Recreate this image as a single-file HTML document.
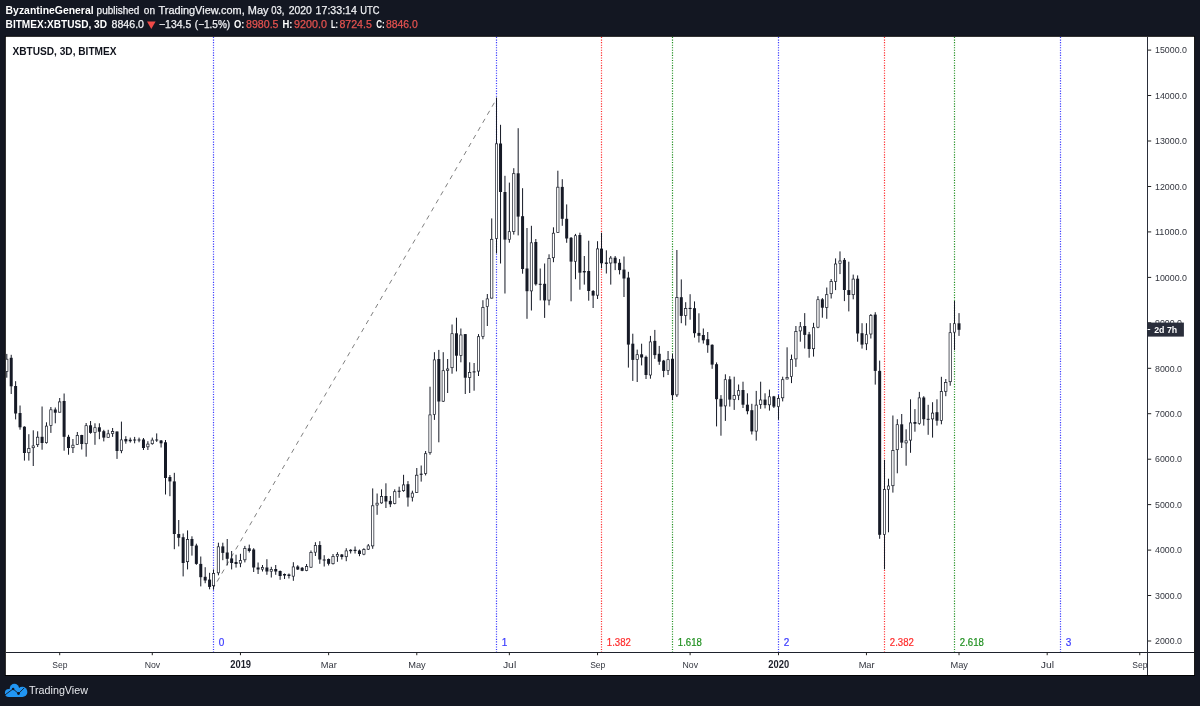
<!DOCTYPE html>
<html><head><meta charset="utf-8"><title>XBTUSD 3D</title>
<style>
html,body{margin:0;padding:0;background:#131722;}
body{width:1200px;height:706px;overflow:hidden;font-family:"Liberation Sans",sans-serif;}
svg{display:block;will-change:transform;}
text{font-family:"Liberation Sans",sans-serif;}
</style></head><body>
<svg width="1200" height="706" viewBox="0 0 1200 706">
<rect x="0" y="0" width="1200" height="706" fill="#131722"/>
<rect x="4.9" y="35.9" width="1190.1" height="640" fill="#000000"/>
<rect x="5.8" y="36.8" width="1188.3" height="638.2" fill="#ffffff"/>
<line x1="213.50" y1="37" x2="213.50" y2="652" stroke="#3a3aff" stroke-width="1.2" stroke-dasharray="1.1 1.45"/>
<line x1="496.50" y1="37" x2="496.50" y2="652" stroke="#3a3aff" stroke-width="1.2" stroke-dasharray="1.1 1.45"/>
<line x1="601.50" y1="37" x2="601.50" y2="652" stroke="#ff2a2a" stroke-width="1.2" stroke-dasharray="1.1 1.45"/>
<line x1="672.50" y1="37" x2="672.50" y2="652" stroke="#1f8f1f" stroke-width="1.2" stroke-dasharray="1.1 1.45"/>
<line x1="778.50" y1="37" x2="778.50" y2="652" stroke="#3a3aff" stroke-width="1.2" stroke-dasharray="1.1 1.45"/>
<line x1="884.50" y1="37" x2="884.50" y2="652" stroke="#ff2a2a" stroke-width="1.2" stroke-dasharray="1.1 1.45"/>
<line x1="954.50" y1="37" x2="954.50" y2="652" stroke="#1f8f1f" stroke-width="1.2" stroke-dasharray="1.1 1.45"/>
<line x1="1060.50" y1="37" x2="1060.50" y2="652" stroke="#3a3aff" stroke-width="1.2" stroke-dasharray="1.1 1.45"/>
<line x1="213.7" y1="587.5" x2="495.9" y2="100" stroke="#808080" stroke-width="1" stroke-dasharray="4.6 4.7" stroke-dashoffset="2.5"/>
<clipPath id="cc"><rect x="6" y="37" width="1141" height="615"/></clipPath>
<g clip-path="url(#cc)">
<rect x="6.30" y="353.9" width="1" height="23.8" fill="#161a26"/><rect x="5.65" y="359.2" width="2.3" height="12.2" fill="#fff" stroke="#161a26" stroke-width="0.7"/>
<rect x="10.71" y="354.8" width="1" height="39.2" fill="#161a26"/><rect x="9.71" y="357.8" width="3" height="28.5" fill="#161a26"/>
<rect x="15.12" y="381.2" width="1" height="38.2" fill="#161a26"/><rect x="14.12" y="386.0" width="3" height="27.5" fill="#161a26"/>
<rect x="19.53" y="405.5" width="1" height="24.2" fill="#161a26"/><rect x="18.53" y="413.0" width="3" height="14.3" fill="#161a26"/>
<rect x="23.93" y="426.3" width="1" height="34.3" fill="#161a26"/><rect x="22.93" y="426.7" width="3" height="26.3" fill="#161a26"/>
<rect x="28.34" y="434.2" width="1" height="26.4" fill="#161a26"/><rect x="27.69" y="448.4" width="2.3" height="4.3" fill="#fff" stroke="#161a26" stroke-width="0.7"/>
<rect x="32.75" y="430.3" width="1" height="35.7" fill="#161a26"/><rect x="32.10" y="445.9" width="2.3" height="1.8" fill="#fff" stroke="#161a26" stroke-width="0.7"/>
<rect x="37.16" y="431.3" width="1" height="15.7" fill="#161a26"/><rect x="36.51" y="437.2" width="2.3" height="7.5" fill="#fff" stroke="#161a26" stroke-width="0.7"/>
<rect x="41.57" y="406.5" width="1" height="43.2" fill="#161a26"/><rect x="40.57" y="436.8" width="3" height="6.2" fill="#161a26"/>
<rect x="45.98" y="422.3" width="1" height="21.3" fill="#161a26"/><rect x="45.33" y="426.1" width="2.3" height="16.6" fill="#fff" stroke="#161a26" stroke-width="0.7"/>
<rect x="50.38" y="407.0" width="1" height="25.9" fill="#161a26"/><rect x="49.73" y="409.8" width="2.3" height="15.6" fill="#fff" stroke="#161a26" stroke-width="0.7"/>
<rect x="54.79" y="407.5" width="1" height="15.8" fill="#161a26"/><rect x="53.79" y="409.5" width="3" height="3.2" fill="#161a26"/>
<rect x="59.20" y="398.0" width="1" height="14.5" fill="#161a26"/><rect x="58.55" y="401.9" width="2.3" height="10.3" fill="#fff" stroke="#161a26" stroke-width="0.7"/>
<rect x="63.61" y="393.5" width="1" height="57.2" fill="#161a26"/><rect x="62.61" y="401.0" width="3" height="35.8" fill="#161a26"/>
<rect x="68.02" y="434.8" width="1" height="19.9" fill="#161a26"/><rect x="67.02" y="436.8" width="3" height="11.2" fill="#161a26"/>
<rect x="72.43" y="439.0" width="1" height="14.0" fill="#161a26"/><rect x="71.78" y="445.2" width="2.3" height="2.5" fill="#fff" stroke="#161a26" stroke-width="0.7"/>
<rect x="76.83" y="432.0" width="1" height="13.0" fill="#161a26"/><rect x="76.18" y="435.4" width="2.3" height="9.1" fill="#fff" stroke="#161a26" stroke-width="0.7"/>
<rect x="81.24" y="434.8" width="1" height="14.7" fill="#161a26"/><rect x="80.24" y="435.0" width="3" height="9.0" fill="#161a26"/>
<rect x="85.65" y="423.0" width="1" height="33.7" fill="#161a26"/><rect x="85.00" y="425.7" width="2.3" height="18.0" fill="#fff" stroke="#161a26" stroke-width="0.7"/>
<rect x="90.06" y="421.0" width="1" height="12.7" fill="#161a26"/><rect x="89.06" y="425.3" width="3" height="7.6" fill="#161a26"/>
<rect x="94.47" y="423.3" width="1" height="21.5" fill="#161a26"/><rect x="93.82" y="427.7" width="2.3" height="4.9" fill="#fff" stroke="#161a26" stroke-width="0.7"/>
<rect x="98.88" y="423.3" width="1" height="15.9" fill="#161a26"/><rect x="97.88" y="427.3" width="3" height="4.4" fill="#161a26"/>
<rect x="103.28" y="429.8" width="1" height="11.6" fill="#161a26"/><rect x="102.28" y="431.2" width="3" height="6.4" fill="#161a26"/>
<rect x="107.69" y="429.8" width="1" height="7.8" fill="#161a26"/><rect x="107.04" y="433.8" width="2.3" height="3.5" fill="#fff" stroke="#161a26" stroke-width="0.7"/>
<rect x="112.10" y="428.0" width="1" height="8.9" fill="#161a26"/><rect x="111.45" y="431.6" width="2.3" height="1.9" fill="#fff" stroke="#161a26" stroke-width="0.7"/>
<rect x="116.51" y="431.5" width="1" height="27.4" fill="#161a26"/><rect x="115.51" y="431.5" width="3" height="19.5" fill="#161a26"/>
<rect x="120.92" y="421.6" width="1" height="31.6" fill="#161a26"/><rect x="120.27" y="439.9" width="2.3" height="10.8" fill="#fff" stroke="#161a26" stroke-width="0.7"/>
<rect x="125.33" y="436.2" width="1" height="7.5" fill="#161a26"/><rect x="124.33" y="439.0" width="3" height="2.4" fill="#161a26"/>
<rect x="129.74" y="437.6" width="1" height="5.0" fill="#161a26"/><rect x="128.74" y="439.7" width="3" height="1.5" fill="#161a26"/>
<rect x="134.14" y="436.9" width="1" height="6.4" fill="#161a26"/><rect x="133.14" y="439.5" width="3" height="1.0" fill="#161a26"/>
<rect x="138.55" y="437.6" width="1" height="4.7" fill="#161a26"/><rect x="137.55" y="439.5" width="3" height="1.0" fill="#161a26"/>
<rect x="142.96" y="438.0" width="1" height="12.0" fill="#161a26"/><rect x="141.96" y="439.5" width="3" height="8.5" fill="#161a26"/>
<rect x="147.37" y="441.2" width="1" height="8.8" fill="#161a26"/><rect x="146.72" y="444.1" width="2.3" height="2.7" fill="#fff" stroke="#161a26" stroke-width="0.7"/>
<rect x="151.78" y="437.6" width="1" height="7.1" fill="#161a26"/><rect x="151.13" y="440.1" width="2.3" height="3.6" fill="#fff" stroke="#161a26" stroke-width="0.7"/>
<rect x="156.19" y="433.4" width="1" height="8.5" fill="#161a26"/><rect x="155.19" y="439.5" width="3" height="1.0" fill="#161a26"/>
<rect x="160.59" y="440.0" width="1" height="7.5" fill="#161a26"/><rect x="159.59" y="440.5" width="3" height="2.8" fill="#161a26"/>
<rect x="165.00" y="440.0" width="1" height="54.5" fill="#161a26"/><rect x="164.00" y="442.3" width="3" height="35.7" fill="#161a26"/>
<rect x="169.41" y="475.0" width="1" height="21.2" fill="#161a26"/><rect x="168.41" y="477.0" width="3" height="4.4" fill="#161a26"/>
<rect x="173.82" y="472.8" width="1" height="76.4" fill="#161a26"/><rect x="172.82" y="481.4" width="3" height="52.6" fill="#161a26"/>
<rect x="178.23" y="520.0" width="1" height="26.4" fill="#161a26"/><rect x="177.23" y="534.0" width="3" height="3.8" fill="#161a26"/>
<rect x="182.64" y="533.5" width="1" height="42.9" fill="#161a26"/><rect x="181.64" y="537.2" width="3" height="25.8" fill="#161a26"/>
<rect x="187.04" y="530.4" width="1" height="39.0" fill="#161a26"/><rect x="186.39" y="539.4" width="2.3" height="22.3" fill="#fff" stroke="#161a26" stroke-width="0.7"/>
<rect x="191.45" y="536.3" width="1" height="19.3" fill="#161a26"/><rect x="190.45" y="539.0" width="3" height="6.9" fill="#161a26"/>
<rect x="195.86" y="543.7" width="1" height="21.1" fill="#161a26"/><rect x="194.86" y="545.5" width="3" height="18.4" fill="#161a26"/>
<rect x="200.27" y="556.5" width="1" height="29.9" fill="#161a26"/><rect x="199.27" y="563.9" width="3" height="13.3" fill="#161a26"/>
<rect x="204.68" y="567.2" width="1" height="16.0" fill="#161a26"/><rect x="203.68" y="576.8" width="3" height="3.7" fill="#161a26"/>
<rect x="209.09" y="572.8" width="1" height="16.5" fill="#161a26"/><rect x="208.09" y="579.6" width="3" height="7.3" fill="#161a26"/>
<rect x="213.00" y="569.4" width="1" height="20.3" fill="#161a26"/><rect x="212.35" y="573.5" width="2.3" height="12.2" fill="#fff" stroke="#161a26" stroke-width="0.7"/>
<rect x="217.90" y="542.7" width="1" height="32.6" fill="#161a26"/><rect x="217.25" y="546.8" width="2.3" height="26.0" fill="#fff" stroke="#161a26" stroke-width="0.7"/>
<rect x="222.31" y="542.7" width="1" height="17.5" fill="#161a26"/><rect x="221.31" y="546.4" width="3" height="6.5" fill="#161a26"/>
<rect x="226.72" y="539.0" width="1" height="26.4" fill="#161a26"/><rect x="225.72" y="552.5" width="3" height="6.3" fill="#161a26"/>
<rect x="231.13" y="551.0" width="1" height="18.4" fill="#161a26"/><rect x="230.13" y="558.4" width="3" height="4.6" fill="#161a26"/>
<rect x="235.54" y="554.7" width="1" height="12.9" fill="#161a26"/><rect x="234.54" y="562.0" width="3" height="2.0" fill="#161a26"/>
<rect x="239.95" y="553.8" width="1" height="13.4" fill="#161a26"/><rect x="239.30" y="560.6" width="2.3" height="2.6" fill="#fff" stroke="#161a26" stroke-width="0.7"/>
<rect x="244.35" y="545.9" width="1" height="16.5" fill="#161a26"/><rect x="243.70" y="548.6" width="2.3" height="11.2" fill="#fff" stroke="#161a26" stroke-width="0.7"/>
<rect x="248.76" y="544.6" width="1" height="7.9" fill="#161a26"/><rect x="247.76" y="548.3" width="3" height="2.7" fill="#161a26"/>
<rect x="253.17" y="548.2" width="1" height="23.8" fill="#161a26"/><rect x="252.17" y="549.5" width="3" height="18.0" fill="#161a26"/>
<rect x="257.58" y="562.5" width="1" height="11.5" fill="#161a26"/><rect x="256.58" y="567.5" width="3" height="2.0" fill="#161a26"/>
<rect x="261.99" y="565.0" width="1" height="6.5" fill="#161a26"/><rect x="261.34" y="567.4" width="2.3" height="1.8" fill="#fff" stroke="#161a26" stroke-width="0.7"/>
<rect x="266.40" y="559.2" width="1" height="15.6" fill="#161a26"/><rect x="265.40" y="567.5" width="3" height="4.0" fill="#161a26"/>
<rect x="270.80" y="566.8" width="1" height="10.7" fill="#161a26"/><rect x="270.15" y="569.4" width="2.3" height="1.8" fill="#fff" stroke="#161a26" stroke-width="0.7"/>
<rect x="275.21" y="565.0" width="1" height="9.8" fill="#161a26"/><rect x="274.21" y="569.0" width="3" height="2.5" fill="#161a26"/>
<rect x="279.62" y="570.5" width="1" height="9.3" fill="#161a26"/><rect x="278.62" y="571.0" width="3" height="5.0" fill="#161a26"/>
<rect x="284.03" y="573.5" width="1" height="5.5" fill="#161a26"/><rect x="283.03" y="574.0" width="3" height="1.5" fill="#161a26"/>
<rect x="288.44" y="573.5" width="1" height="5.0" fill="#161a26"/><rect x="287.44" y="574.5" width="3" height="1.5" fill="#161a26"/>
<rect x="292.85" y="562.2" width="1" height="18.6" fill="#161a26"/><rect x="292.20" y="566.9" width="2.3" height="9.3" fill="#fff" stroke="#161a26" stroke-width="0.7"/>
<rect x="297.25" y="565.2" width="1" height="4.8" fill="#161a26"/><rect x="296.25" y="566.5" width="3" height="3.0" fill="#161a26"/>
<rect x="301.66" y="567.0" width="1" height="4.2" fill="#161a26"/><rect x="300.66" y="567.8" width="3" height="3.0" fill="#161a26"/>
<rect x="306.07" y="564.0" width="1" height="7.2" fill="#161a26"/><rect x="305.42" y="566.6" width="2.3" height="3.9" fill="#fff" stroke="#161a26" stroke-width="0.7"/>
<rect x="310.48" y="550.5" width="1" height="17.3" fill="#161a26"/><rect x="309.83" y="552.4" width="2.3" height="14.8" fill="#fff" stroke="#161a26" stroke-width="0.7"/>
<rect x="314.89" y="542.2" width="1" height="13.8" fill="#161a26"/><rect x="314.24" y="545.4" width="2.3" height="6.8" fill="#fff" stroke="#161a26" stroke-width="0.7"/>
<rect x="319.30" y="541.2" width="1" height="22.6" fill="#161a26"/><rect x="318.30" y="545.0" width="3" height="14.5" fill="#161a26"/>
<rect x="323.70" y="555.2" width="1" height="11.3" fill="#161a26"/><rect x="322.70" y="559.5" width="3" height="1.0" fill="#161a26"/>
<rect x="328.11" y="558.5" width="1" height="7.0" fill="#161a26"/><rect x="327.11" y="559.0" width="3" height="4.8" fill="#161a26"/>
<rect x="332.52" y="554.0" width="1" height="10.5" fill="#161a26"/><rect x="331.87" y="556.4" width="2.3" height="7.3" fill="#fff" stroke="#161a26" stroke-width="0.7"/>
<rect x="336.93" y="552.2" width="1" height="9.6" fill="#161a26"/><rect x="336.28" y="554.4" width="2.3" height="1.8" fill="#fff" stroke="#161a26" stroke-width="0.7"/>
<rect x="341.34" y="554.0" width="1" height="5.5" fill="#161a26"/><rect x="340.34" y="554.5" width="3" height="2.5" fill="#161a26"/>
<rect x="345.75" y="548.2" width="1" height="13.0" fill="#161a26"/><rect x="345.10" y="550.9" width="2.3" height="5.8" fill="#fff" stroke="#161a26" stroke-width="0.7"/>
<rect x="350.16" y="549.2" width="1" height="4.3" fill="#161a26"/><rect x="349.16" y="549.8" width="3" height="1.4" fill="#161a26"/>
<rect x="354.56" y="546.5" width="1" height="7.0" fill="#161a26"/><rect x="353.56" y="549.8" width="3" height="1.2" fill="#161a26"/>
<rect x="358.97" y="549.5" width="1" height="6.7" fill="#161a26"/><rect x="357.97" y="550.5" width="3" height="3.5" fill="#161a26"/>
<rect x="363.38" y="548.2" width="1" height="7.0" fill="#161a26"/><rect x="362.73" y="549.6" width="2.3" height="4.6" fill="#fff" stroke="#161a26" stroke-width="0.7"/>
<rect x="367.79" y="544.0" width="1" height="6.0" fill="#161a26"/><rect x="367.14" y="545.9" width="2.3" height="3.3" fill="#fff" stroke="#161a26" stroke-width="0.7"/>
<rect x="372.20" y="488.4" width="1" height="60.4" fill="#161a26"/><rect x="371.55" y="505.8" width="2.3" height="40.1" fill="#fff" stroke="#161a26" stroke-width="0.7"/>
<rect x="376.61" y="493.5" width="1" height="21.3" fill="#161a26"/><rect x="375.96" y="503.2" width="2.3" height="1.8" fill="#fff" stroke="#161a26" stroke-width="0.7"/>
<rect x="381.01" y="489.3" width="1" height="14.4" fill="#161a26"/><rect x="380.36" y="496.4" width="2.3" height="6.5" fill="#fff" stroke="#161a26" stroke-width="0.7"/>
<rect x="385.42" y="483.3" width="1" height="24.7" fill="#161a26"/><rect x="384.42" y="496.0" width="3" height="5.5" fill="#161a26"/>
<rect x="389.83" y="496.0" width="1" height="11.1" fill="#161a26"/><rect x="388.83" y="500.9" width="3" height="3.4" fill="#161a26"/>
<rect x="394.24" y="489.3" width="1" height="15.0" fill="#161a26"/><rect x="393.59" y="491.7" width="2.3" height="11.7" fill="#fff" stroke="#161a26" stroke-width="0.7"/>
<rect x="398.65" y="486.7" width="1" height="11.1" fill="#161a26"/><rect x="397.65" y="490.7" width="3" height="1.1" fill="#161a26"/>
<rect x="403.06" y="474.8" width="1" height="17.0" fill="#161a26"/><rect x="402.41" y="484.9" width="2.3" height="5.8" fill="#fff" stroke="#161a26" stroke-width="0.7"/>
<rect x="407.46" y="481.1" width="1" height="25.5" fill="#161a26"/><rect x="406.46" y="484.2" width="3" height="13.3" fill="#161a26"/>
<rect x="411.87" y="490.7" width="1" height="10.8" fill="#161a26"/><rect x="411.22" y="493.1" width="2.3" height="4.1" fill="#fff" stroke="#161a26" stroke-width="0.7"/>
<rect x="416.28" y="468.0" width="1" height="25.0" fill="#161a26"/><rect x="415.63" y="475.2" width="2.3" height="17.2" fill="#fff" stroke="#161a26" stroke-width="0.7"/>
<rect x="420.69" y="465.5" width="1" height="16.1" fill="#161a26"/><rect x="419.69" y="473.7" width="3" height="1.1" fill="#161a26"/>
<rect x="425.10" y="451.0" width="1" height="24.4" fill="#161a26"/><rect x="424.45" y="453.7" width="2.3" height="19.7" fill="#fff" stroke="#161a26" stroke-width="0.7"/>
<rect x="429.51" y="386.7" width="1" height="68.0" fill="#161a26"/><rect x="428.86" y="414.9" width="2.3" height="37.8" fill="#fff" stroke="#161a26" stroke-width="0.7"/>
<rect x="433.91" y="352.2" width="1" height="67.7" fill="#161a26"/><rect x="433.26" y="359.9" width="2.3" height="54.6" fill="#fff" stroke="#161a26" stroke-width="0.7"/>
<rect x="438.32" y="349.9" width="1" height="92.4" fill="#161a26"/><rect x="437.32" y="359.0" width="3" height="42.5" fill="#161a26"/>
<rect x="442.73" y="352.2" width="1" height="49.8" fill="#161a26"/><rect x="442.08" y="370.7" width="2.3" height="30.5" fill="#fff" stroke="#161a26" stroke-width="0.7"/>
<rect x="447.14" y="359.0" width="1" height="34.0" fill="#161a26"/><rect x="446.49" y="369.0" width="2.3" height="1.3" fill="#fff" stroke="#161a26" stroke-width="0.7"/>
<rect x="451.55" y="324.5" width="1" height="49.2" fill="#161a26"/><rect x="450.90" y="333.7" width="2.3" height="34.0" fill="#fff" stroke="#161a26" stroke-width="0.7"/>
<rect x="455.96" y="317.7" width="1" height="53.7" fill="#161a26"/><rect x="454.96" y="333.3" width="3" height="22.4" fill="#161a26"/>
<rect x="460.37" y="328.5" width="1" height="33.8" fill="#161a26"/><rect x="459.72" y="335.0" width="2.3" height="20.4" fill="#fff" stroke="#161a26" stroke-width="0.7"/>
<rect x="464.77" y="334.1" width="1" height="59.9" fill="#161a26"/><rect x="463.77" y="334.1" width="3" height="43.6" fill="#161a26"/>
<rect x="469.18" y="362.3" width="1" height="30.7" fill="#161a26"/><rect x="468.53" y="372.4" width="2.3" height="5.0" fill="#fff" stroke="#161a26" stroke-width="0.7"/>
<rect x="473.59" y="363.0" width="1" height="27.7" fill="#161a26"/><rect x="472.59" y="371.4" width="3" height="1.0" fill="#161a26"/>
<rect x="478.00" y="334.1" width="1" height="41.9" fill="#161a26"/><rect x="477.35" y="336.7" width="2.3" height="34.4" fill="#fff" stroke="#161a26" stroke-width="0.7"/>
<rect x="482.41" y="300.2" width="1" height="39.0" fill="#161a26"/><rect x="481.76" y="307.4" width="2.3" height="29.0" fill="#fff" stroke="#161a26" stroke-width="0.7"/>
<rect x="486.82" y="294.0" width="1" height="32.0" fill="#161a26"/><rect x="486.17" y="298.9" width="2.3" height="7.7" fill="#fff" stroke="#161a26" stroke-width="0.7"/>
<rect x="491.22" y="218.4" width="1" height="80.1" fill="#161a26"/><rect x="490.57" y="239.3" width="2.3" height="58.8" fill="#fff" stroke="#161a26" stroke-width="0.7"/>
<rect x="496.00" y="97.6" width="1" height="155.8" fill="#161a26"/><rect x="495.35" y="143.8" width="2.3" height="94.8" fill="#fff" stroke="#161a26" stroke-width="0.7"/>
<rect x="500.04" y="124.8" width="1" height="138.7" fill="#161a26"/><rect x="499.04" y="143.5" width="3" height="48.5" fill="#161a26"/>
<rect x="504.45" y="175.8" width="1" height="117.7" fill="#161a26"/><rect x="503.45" y="192.0" width="3" height="47.6" fill="#161a26"/>
<rect x="508.86" y="182.6" width="1" height="60.1" fill="#161a26"/><rect x="508.21" y="231.7" width="2.3" height="7.6" fill="#fff" stroke="#161a26" stroke-width="0.7"/>
<rect x="513.27" y="168.2" width="1" height="66.4" fill="#161a26"/><rect x="512.62" y="173.7" width="2.3" height="57.7" fill="#fff" stroke="#161a26" stroke-width="0.7"/>
<rect x="517.67" y="128.2" width="1" height="107.2" fill="#161a26"/><rect x="516.67" y="173.3" width="3" height="43.3" fill="#161a26"/>
<rect x="522.08" y="188.2" width="1" height="85.5" fill="#161a26"/><rect x="521.08" y="216.2" width="3" height="52.8" fill="#161a26"/>
<rect x="526.49" y="228.0" width="1" height="90.8" fill="#161a26"/><rect x="525.49" y="268.5" width="3" height="22.7" fill="#161a26"/>
<rect x="530.90" y="225.8" width="1" height="84.7" fill="#161a26"/><rect x="530.25" y="242.8" width="2.3" height="48.1" fill="#fff" stroke="#161a26" stroke-width="0.7"/>
<rect x="535.31" y="239.0" width="1" height="46.6" fill="#161a26"/><rect x="534.31" y="242.0" width="3" height="42.3" fill="#161a26"/>
<rect x="539.72" y="268.5" width="1" height="31.9" fill="#161a26"/><rect x="538.72" y="283.8" width="3" height="1.0" fill="#161a26"/>
<rect x="544.12" y="263.5" width="1" height="54.4" fill="#161a26"/><rect x="543.12" y="283.8" width="3" height="16.6" fill="#161a26"/>
<rect x="548.53" y="254.3" width="1" height="51.0" fill="#161a26"/><rect x="547.88" y="258.4" width="2.3" height="41.7" fill="#fff" stroke="#161a26" stroke-width="0.7"/>
<rect x="552.94" y="227.3" width="1" height="34.9" fill="#161a26"/><rect x="552.29" y="233.2" width="2.3" height="24.5" fill="#fff" stroke="#161a26" stroke-width="0.7"/>
<rect x="557.35" y="170.7" width="1" height="62.1" fill="#161a26"/><rect x="556.70" y="187.2" width="2.3" height="45.2" fill="#fff" stroke="#161a26" stroke-width="0.7"/>
<rect x="561.76" y="179.2" width="1" height="46.6" fill="#161a26"/><rect x="560.76" y="186.9" width="3" height="31.9" fill="#161a26"/>
<rect x="566.17" y="204.4" width="1" height="38.4" fill="#161a26"/><rect x="565.17" y="218.8" width="3" height="19.7" fill="#161a26"/>
<rect x="570.58" y="237.0" width="1" height="64.3" fill="#161a26"/><rect x="569.58" y="237.8" width="3" height="23.8" fill="#161a26"/>
<rect x="574.98" y="233.9" width="1" height="45.3" fill="#161a26"/><rect x="574.33" y="235.7" width="2.3" height="25.6" fill="#fff" stroke="#161a26" stroke-width="0.7"/>
<rect x="579.39" y="232.7" width="1" height="57.0" fill="#161a26"/><rect x="578.39" y="235.0" width="3" height="37.7" fill="#161a26"/>
<rect x="583.80" y="256.0" width="1" height="28.6" fill="#161a26"/><rect x="582.80" y="271.0" width="3" height="1.4" fill="#161a26"/>
<rect x="588.21" y="240.7" width="1" height="60.0" fill="#161a26"/><rect x="587.21" y="271.0" width="3" height="20.0" fill="#161a26"/>
<rect x="592.62" y="290.0" width="1" height="18.0" fill="#161a26"/><rect x="591.62" y="291.0" width="3" height="4.6" fill="#161a26"/>
<rect x="597.03" y="241.2" width="1" height="57.8" fill="#161a26"/><rect x="596.38" y="248.9" width="2.3" height="46.3" fill="#fff" stroke="#161a26" stroke-width="0.7"/>
<rect x="601.00" y="232.7" width="1" height="35.7" fill="#161a26"/><rect x="600.00" y="248.6" width="3" height="14.7" fill="#161a26"/>
<rect x="605.84" y="250.3" width="1" height="23.2" fill="#161a26"/><rect x="604.84" y="262.5" width="3" height="1.4" fill="#161a26"/>
<rect x="610.25" y="256.0" width="1" height="28.6" fill="#161a26"/><rect x="609.60" y="258.1" width="2.3" height="4.9" fill="#fff" stroke="#161a26" stroke-width="0.7"/>
<rect x="614.66" y="256.0" width="1" height="14.1" fill="#161a26"/><rect x="613.66" y="257.7" width="3" height="5.6" fill="#161a26"/>
<rect x="619.07" y="259.1" width="1" height="15.3" fill="#161a26"/><rect x="618.07" y="262.8" width="3" height="7.3" fill="#161a26"/>
<rect x="623.48" y="256.5" width="1" height="40.5" fill="#161a26"/><rect x="622.48" y="269.6" width="3" height="8.9" fill="#161a26"/>
<rect x="627.88" y="271.8" width="1" height="95.8" fill="#161a26"/><rect x="626.88" y="277.6" width="3" height="67.0" fill="#161a26"/>
<rect x="632.29" y="333.7" width="1" height="47.2" fill="#161a26"/><rect x="631.29" y="343.7" width="3" height="16.2" fill="#161a26"/>
<rect x="636.70" y="349.6" width="1" height="32.4" fill="#161a26"/><rect x="636.05" y="354.7" width="2.3" height="4.9" fill="#fff" stroke="#161a26" stroke-width="0.7"/>
<rect x="641.11" y="343.7" width="1" height="21.7" fill="#161a26"/><rect x="640.11" y="354.3" width="3" height="3.2" fill="#161a26"/>
<rect x="645.52" y="355.6" width="1" height="23.4" fill="#161a26"/><rect x="644.52" y="356.9" width="3" height="18.1" fill="#161a26"/>
<rect x="649.93" y="335.9" width="1" height="42.8" fill="#161a26"/><rect x="649.28" y="341.9" width="2.3" height="33.1" fill="#fff" stroke="#161a26" stroke-width="0.7"/>
<rect x="654.33" y="329.9" width="1" height="28.9" fill="#161a26"/><rect x="653.33" y="340.9" width="3" height="14.2" fill="#161a26"/>
<rect x="658.74" y="345.9" width="1" height="18.9" fill="#161a26"/><rect x="657.74" y="353.8" width="3" height="7.9" fill="#161a26"/>
<rect x="663.15" y="359.9" width="1" height="17.3" fill="#161a26"/><rect x="662.15" y="360.6" width="3" height="10.3" fill="#161a26"/>
<rect x="667.56" y="351.0" width="1" height="24.0" fill="#161a26"/><rect x="666.91" y="359.7" width="2.3" height="10.9" fill="#fff" stroke="#161a26" stroke-width="0.7"/>
<rect x="672.00" y="353.8" width="1" height="46.2" fill="#161a26"/><rect x="671.00" y="358.8" width="3" height="36.4" fill="#161a26"/>
<rect x="676.38" y="250.0" width="1" height="147.0" fill="#161a26"/><rect x="675.73" y="297.6" width="2.3" height="97.3" fill="#fff" stroke="#161a26" stroke-width="0.7"/>
<rect x="680.79" y="279.4" width="1" height="43.8" fill="#161a26"/><rect x="679.79" y="297.2" width="3" height="18.7" fill="#161a26"/>
<rect x="685.19" y="302.2" width="1" height="23.3" fill="#161a26"/><rect x="684.54" y="308.6" width="2.3" height="6.9" fill="#fff" stroke="#161a26" stroke-width="0.7"/>
<rect x="689.60" y="294.2" width="1" height="25.5" fill="#161a26"/><rect x="688.60" y="307.9" width="3" height="1.1" fill="#161a26"/>
<rect x="694.01" y="301.4" width="1" height="36.2" fill="#161a26"/><rect x="693.01" y="308.2" width="3" height="25.0" fill="#161a26"/>
<rect x="698.42" y="313.3" width="1" height="29.2" fill="#161a26"/><rect x="697.42" y="332.9" width="3" height="2.9" fill="#161a26"/>
<rect x="702.83" y="328.5" width="1" height="15.1" fill="#161a26"/><rect x="701.83" y="335.0" width="3" height="5.3" fill="#161a26"/>
<rect x="707.24" y="332.0" width="1" height="20.8" fill="#161a26"/><rect x="706.24" y="339.2" width="3" height="6.0" fill="#161a26"/>
<rect x="711.64" y="344.3" width="1" height="24.5" fill="#161a26"/><rect x="710.64" y="344.8" width="3" height="19.8" fill="#161a26"/>
<rect x="716.05" y="362.4" width="1" height="64.0" fill="#161a26"/><rect x="715.05" y="364.2" width="3" height="35.0" fill="#161a26"/>
<rect x="720.46" y="395.1" width="1" height="40.6" fill="#161a26"/><rect x="719.46" y="398.8" width="3" height="7.8" fill="#161a26"/>
<rect x="724.87" y="374.3" width="1" height="46.6" fill="#161a26"/><rect x="724.22" y="379.7" width="2.3" height="26.2" fill="#fff" stroke="#161a26" stroke-width="0.7"/>
<rect x="729.28" y="376.2" width="1" height="30.4" fill="#161a26"/><rect x="728.28" y="379.3" width="3" height="20.3" fill="#161a26"/>
<rect x="733.69" y="376.7" width="1" height="33.2" fill="#161a26"/><rect x="733.04" y="395.5" width="2.3" height="3.8" fill="#fff" stroke="#161a26" stroke-width="0.7"/>
<rect x="738.09" y="384.5" width="1" height="15.6" fill="#161a26"/><rect x="737.44" y="390.7" width="2.3" height="4.5" fill="#fff" stroke="#161a26" stroke-width="0.7"/>
<rect x="742.50" y="381.7" width="1" height="26.3" fill="#161a26"/><rect x="741.50" y="390.0" width="3" height="14.7" fill="#161a26"/>
<rect x="746.91" y="393.3" width="1" height="21.0" fill="#161a26"/><rect x="745.91" y="404.7" width="3" height="6.5" fill="#161a26"/>
<rect x="751.32" y="403.8" width="1" height="30.7" fill="#161a26"/><rect x="750.32" y="410.2" width="3" height="21.2" fill="#161a26"/>
<rect x="755.73" y="390.9" width="1" height="49.7" fill="#161a26"/><rect x="755.08" y="405.1" width="2.3" height="26.0" fill="#fff" stroke="#161a26" stroke-width="0.7"/>
<rect x="760.14" y="381.7" width="1" height="27.1" fill="#161a26"/><rect x="759.49" y="400.0" width="2.3" height="4.4" fill="#fff" stroke="#161a26" stroke-width="0.7"/>
<rect x="764.54" y="393.3" width="1" height="15.1" fill="#161a26"/><rect x="763.54" y="399.6" width="3" height="5.5" fill="#161a26"/>
<rect x="768.95" y="389.6" width="1" height="21.0" fill="#161a26"/><rect x="768.30" y="396.8" width="2.3" height="8.0" fill="#fff" stroke="#161a26" stroke-width="0.7"/>
<rect x="773.36" y="395.9" width="1" height="12.1" fill="#161a26"/><rect x="772.36" y="396.4" width="3" height="10.2" fill="#161a26"/>
<rect x="778.00" y="395.1" width="1" height="24.7" fill="#161a26"/><rect x="777.35" y="398.5" width="2.3" height="8.0" fill="#fff" stroke="#161a26" stroke-width="0.7"/>
<rect x="782.18" y="376.7" width="1" height="24.7" fill="#161a26"/><rect x="781.53" y="379.7" width="2.3" height="18.1" fill="#fff" stroke="#161a26" stroke-width="0.7"/>
<rect x="786.59" y="347.3" width="1" height="32.0" fill="#161a26"/><rect x="785.94" y="377.5" width="2.3" height="1.5" fill="#fff" stroke="#161a26" stroke-width="0.7"/>
<rect x="791.00" y="354.6" width="1" height="28.5" fill="#161a26"/><rect x="790.35" y="359.6" width="2.3" height="16.8" fill="#fff" stroke="#161a26" stroke-width="0.7"/>
<rect x="795.40" y="326.0" width="1" height="40.9" fill="#161a26"/><rect x="794.75" y="331.6" width="2.3" height="27.3" fill="#fff" stroke="#161a26" stroke-width="0.7"/>
<rect x="799.81" y="322.0" width="1" height="19.7" fill="#161a26"/><rect x="799.16" y="326.8" width="2.3" height="4.1" fill="#fff" stroke="#161a26" stroke-width="0.7"/>
<rect x="804.22" y="313.1" width="1" height="35.4" fill="#161a26"/><rect x="803.22" y="326.0" width="3" height="8.9" fill="#161a26"/>
<rect x="808.63" y="331.9" width="1" height="25.8" fill="#161a26"/><rect x="807.63" y="334.3" width="3" height="14.7" fill="#161a26"/>
<rect x="813.04" y="322.8" width="1" height="33.8" fill="#161a26"/><rect x="812.39" y="327.7" width="2.3" height="21.0" fill="#fff" stroke="#161a26" stroke-width="0.7"/>
<rect x="817.45" y="296.2" width="1" height="32.0" fill="#161a26"/><rect x="816.80" y="299.7" width="2.3" height="27.5" fill="#fff" stroke="#161a26" stroke-width="0.7"/>
<rect x="821.85" y="298.0" width="1" height="19.7" fill="#161a26"/><rect x="820.85" y="299.3" width="3" height="8.4" fill="#161a26"/>
<rect x="826.26" y="287.5" width="1" height="31.3" fill="#161a26"/><rect x="825.61" y="294.7" width="2.3" height="12.7" fill="#fff" stroke="#161a26" stroke-width="0.7"/>
<rect x="830.67" y="279.0" width="1" height="19.5" fill="#161a26"/><rect x="830.02" y="281.6" width="2.3" height="12.1" fill="#fff" stroke="#161a26" stroke-width="0.7"/>
<rect x="835.08" y="258.4" width="1" height="31.7" fill="#161a26"/><rect x="834.43" y="264.0" width="2.3" height="17.5" fill="#fff" stroke="#161a26" stroke-width="0.7"/>
<rect x="839.49" y="251.4" width="1" height="22.7" fill="#161a26"/><rect x="838.84" y="261.0" width="2.3" height="2.3" fill="#fff" stroke="#161a26" stroke-width="0.7"/>
<rect x="843.90" y="258.0" width="1" height="43.1" fill="#161a26"/><rect x="842.90" y="259.9" width="3" height="30.1" fill="#161a26"/>
<rect x="848.30" y="261.7" width="1" height="49.7" fill="#161a26"/><rect x="847.30" y="290.1" width="3" height="4.9" fill="#161a26"/>
<rect x="852.71" y="274.6" width="1" height="24.7" fill="#161a26"/><rect x="852.06" y="279.1" width="2.3" height="15.6" fill="#fff" stroke="#161a26" stroke-width="0.7"/>
<rect x="857.12" y="275.4" width="1" height="66.3" fill="#161a26"/><rect x="856.12" y="278.7" width="3" height="54.8" fill="#161a26"/>
<rect x="861.53" y="323.2" width="1" height="25.4" fill="#161a26"/><rect x="860.53" y="333.2" width="3" height="11.4" fill="#161a26"/>
<rect x="865.94" y="323.2" width="1" height="26.9" fill="#161a26"/><rect x="865.29" y="334.7" width="2.3" height="9.1" fill="#fff" stroke="#161a26" stroke-width="0.7"/>
<rect x="870.35" y="314.0" width="1" height="24.5" fill="#161a26"/><rect x="869.70" y="315.5" width="2.3" height="18.5" fill="#fff" stroke="#161a26" stroke-width="0.7"/>
<rect x="874.75" y="312.2" width="1" height="72.4" fill="#161a26"/><rect x="873.75" y="314.6" width="3" height="56.3" fill="#161a26"/>
<rect x="879.16" y="360.6" width="1" height="178.2" fill="#161a26"/><rect x="878.16" y="370.9" width="3" height="163.9" fill="#161a26"/>
<rect x="884.00" y="459.8" width="1" height="109.6" fill="#161a26"/><rect x="883.35" y="489.6" width="2.3" height="44.9" fill="#fff" stroke="#161a26" stroke-width="0.7"/>
<rect x="887.98" y="478.7" width="1" height="53.6" fill="#161a26"/><rect x="887.33" y="486.0" width="2.3" height="3.3" fill="#fff" stroke="#161a26" stroke-width="0.7"/>
<rect x="892.39" y="415.5" width="1" height="77.1" fill="#161a26"/><rect x="891.74" y="450.6" width="2.3" height="35.1" fill="#fff" stroke="#161a26" stroke-width="0.7"/>
<rect x="896.80" y="419.2" width="1" height="54.1" fill="#161a26"/><rect x="896.15" y="424.7" width="2.3" height="25.0" fill="#fff" stroke="#161a26" stroke-width="0.7"/>
<rect x="901.21" y="414.0" width="1" height="34.0" fill="#161a26"/><rect x="900.21" y="424.3" width="3" height="18.3" fill="#161a26"/>
<rect x="905.61" y="429.3" width="1" height="36.4" fill="#161a26"/><rect x="904.96" y="440.8" width="2.3" height="2.1" fill="#fff" stroke="#161a26" stroke-width="0.7"/>
<rect x="910.02" y="399.3" width="1" height="53.5" fill="#161a26"/><rect x="909.37" y="422.9" width="2.3" height="17.2" fill="#fff" stroke="#161a26" stroke-width="0.7"/>
<rect x="914.43" y="409.1" width="1" height="22.6" fill="#161a26"/><rect x="913.43" y="422.0" width="3" height="1.8" fill="#161a26"/>
<rect x="918.84" y="391.9" width="1" height="32.8" fill="#161a26"/><rect x="918.19" y="397.9" width="2.3" height="25.6" fill="#fff" stroke="#161a26" stroke-width="0.7"/>
<rect x="923.25" y="396.2" width="1" height="29.4" fill="#161a26"/><rect x="922.25" y="397.5" width="3" height="21.7" fill="#161a26"/>
<rect x="927.66" y="404.8" width="1" height="30.0" fill="#161a26"/><rect x="926.66" y="418.8" width="3" height="1.0" fill="#161a26"/>
<rect x="932.06" y="402.2" width="1" height="35.4" fill="#161a26"/><rect x="931.41" y="413.1" width="2.3" height="5.8" fill="#fff" stroke="#161a26" stroke-width="0.7"/>
<rect x="936.47" y="399.3" width="1" height="26.3" fill="#161a26"/><rect x="935.47" y="412.2" width="3" height="8.5" fill="#161a26"/>
<rect x="940.88" y="376.8" width="1" height="47.5" fill="#161a26"/><rect x="940.23" y="391.6" width="2.3" height="28.8" fill="#fff" stroke="#161a26" stroke-width="0.7"/>
<rect x="945.29" y="379.0" width="1" height="17.2" fill="#161a26"/><rect x="944.64" y="382.4" width="2.3" height="8.9" fill="#fff" stroke="#161a26" stroke-width="0.7"/>
<rect x="949.70" y="323.1" width="1" height="62.6" fill="#161a26"/><rect x="949.05" y="332.7" width="2.3" height="49.0" fill="#fff" stroke="#161a26" stroke-width="0.7"/>
<rect x="954.00" y="300.9" width="1" height="49.2" fill="#161a26"/><rect x="953.35" y="323.7" width="2.3" height="8.5" fill="#fff" stroke="#161a26" stroke-width="0.7"/>
<rect x="958.51" y="313.1" width="1" height="22.8" fill="#161a26"/><rect x="957.51" y="323.3" width="3" height="6.5" fill="#161a26"/>
</g>
<rect x="6" y="652" width="1188" height="1" fill="#1e222d"/>
<rect x="1147" y="36.8" width="1" height="638.2" fill="#2a2e39"/>
<rect x="1148" y="49.6" width="3.2" height="1" fill="#222"/><text x="1155" y="53.3" font-size="9.9" fill="#33363f" textLength="32" lengthAdjust="spacingAndGlyphs">15000.0</text>
<rect x="1148" y="95.0" width="3.2" height="1" fill="#222"/><text x="1155" y="98.7" font-size="9.9" fill="#33363f" textLength="32" lengthAdjust="spacingAndGlyphs">14000.0</text>
<rect x="1148" y="140.5" width="3.2" height="1" fill="#222"/><text x="1155" y="144.2" font-size="9.9" fill="#33363f" textLength="32" lengthAdjust="spacingAndGlyphs">13000.0</text>
<rect x="1148" y="186.0" width="3.2" height="1" fill="#222"/><text x="1155" y="189.7" font-size="9.9" fill="#33363f" textLength="32" lengthAdjust="spacingAndGlyphs">12000.0</text>
<rect x="1148" y="231.4" width="3.2" height="1" fill="#222"/><text x="1155" y="235.1" font-size="9.9" fill="#33363f" textLength="32" lengthAdjust="spacingAndGlyphs">11000.0</text>
<rect x="1148" y="276.9" width="3.2" height="1" fill="#222"/><text x="1155" y="280.6" font-size="9.9" fill="#33363f" textLength="32" lengthAdjust="spacingAndGlyphs">10000.0</text>
<rect x="1148" y="322.3" width="3.2" height="1" fill="#222"/><text x="1155" y="326.0" font-size="9.9" fill="#33363f" textLength="27" lengthAdjust="spacingAndGlyphs">9000.0</text>
<rect x="1148" y="367.8" width="3.2" height="1" fill="#222"/><text x="1155" y="371.5" font-size="9.9" fill="#33363f" textLength="27" lengthAdjust="spacingAndGlyphs">8000.0</text>
<rect x="1148" y="413.2" width="3.2" height="1" fill="#222"/><text x="1155" y="416.9" font-size="9.9" fill="#33363f" textLength="27" lengthAdjust="spacingAndGlyphs">7000.0</text>
<rect x="1148" y="458.7" width="3.2" height="1" fill="#222"/><text x="1155" y="462.4" font-size="9.9" fill="#33363f" textLength="27" lengthAdjust="spacingAndGlyphs">6000.0</text>
<rect x="1148" y="504.1" width="3.2" height="1" fill="#222"/><text x="1155" y="507.8" font-size="9.9" fill="#33363f" textLength="27" lengthAdjust="spacingAndGlyphs">5000.0</text>
<rect x="1148" y="549.6" width="3.2" height="1" fill="#222"/><text x="1155" y="553.3" font-size="9.9" fill="#33363f" textLength="27" lengthAdjust="spacingAndGlyphs">4000.0</text>
<rect x="1148" y="595.0" width="3.2" height="1" fill="#222"/><text x="1155" y="598.7" font-size="9.9" fill="#33363f" textLength="27" lengthAdjust="spacingAndGlyphs">3000.0</text>
<rect x="1148" y="640.5" width="3.2" height="1" fill="#222"/><text x="1155" y="644.2" font-size="9.9" fill="#33363f" textLength="27" lengthAdjust="spacingAndGlyphs">2000.0</text>
<rect x="1147.2" y="322.6" width="36.7" height="14" fill="#2a2e3b"/>
<rect x="1147.6" y="329" width="2.6" height="1" fill="#fff"/>
<text x="1154.2" y="332.8" font-size="9.4" font-weight="bold" fill="#fff" textLength="23" lengthAdjust="spacingAndGlyphs">2d 7h</text>
<clipPath id="tc"><rect x="6" y="652" width="1141" height="23"/></clipPath>
<g clip-path="url(#tc)">
<rect x="59.20" y="652" width="1" height="3.2" fill="#222"/><text x="52.30" y="667.8" font-size="9.8" fill="#33363f" textLength="15.2" lengthAdjust="spacingAndGlyphs">Sep</text>
<rect x="151.78" y="652" width="1" height="3.2" fill="#222"/><text x="144.73" y="667.8" font-size="9.8" fill="#33363f" textLength="15.5" lengthAdjust="spacingAndGlyphs">Nov</text>
<rect x="239.95" y="652" width="1" height="3.2" fill="#222"/><text x="230.25" y="667.8" font-size="10.6" fill="#1c1f2a" font-weight="bold" textLength="20.8" lengthAdjust="spacingAndGlyphs">2019</text>
<rect x="328.11" y="652" width="1" height="3.2" fill="#222"/><text x="320.81" y="667.8" font-size="9.8" fill="#33363f" textLength="16" lengthAdjust="spacingAndGlyphs">Mar</text>
<rect x="416.28" y="652" width="1" height="3.2" fill="#222"/><text x="408.23" y="667.8" font-size="9.8" fill="#33363f" textLength="17.5" lengthAdjust="spacingAndGlyphs">May</text>
<rect x="508.86" y="652" width="1" height="3.2" fill="#222"/><text x="502.91" y="667.8" font-size="9.8" fill="#33363f" textLength="13.3" lengthAdjust="spacingAndGlyphs">Jul</text>
<rect x="597.03" y="652" width="1" height="3.2" fill="#222"/><text x="590.13" y="667.8" font-size="9.8" fill="#33363f" textLength="15.2" lengthAdjust="spacingAndGlyphs">Sep</text>
<rect x="689.60" y="652" width="1" height="3.2" fill="#222"/><text x="682.55" y="667.8" font-size="9.8" fill="#33363f" textLength="15.5" lengthAdjust="spacingAndGlyphs">Nov</text>
<rect x="778.00" y="652" width="1" height="3.2" fill="#222"/><text x="768.30" y="667.8" font-size="10.6" fill="#1c1f2a" font-weight="bold" textLength="20.8" lengthAdjust="spacingAndGlyphs">2020</text>
<rect x="865.94" y="652" width="1" height="3.2" fill="#222"/><text x="858.64" y="667.8" font-size="9.8" fill="#33363f" textLength="16" lengthAdjust="spacingAndGlyphs">Mar</text>
<rect x="958.51" y="652" width="1" height="3.2" fill="#222"/><text x="950.46" y="667.8" font-size="9.8" fill="#33363f" textLength="17.5" lengthAdjust="spacingAndGlyphs">May</text>
<rect x="1046.68" y="652" width="1" height="3.2" fill="#222"/><text x="1040.73" y="667.8" font-size="9.8" fill="#33363f" textLength="13.3" lengthAdjust="spacingAndGlyphs">Jul</text>
<rect x="1139.26" y="652" width="1" height="3.2" fill="#222"/><text x="1132.36" y="667.8" font-size="9.8" fill="#33363f" textLength="15.2" lengthAdjust="spacingAndGlyphs">Sep</text>
</g>
<text x="218.80" y="645.8" font-size="10" fill="#3a3aff" stroke="#3a3aff" stroke-width="0.2">0</text>
<text x="501.80" y="645.8" font-size="10" fill="#3a3aff" stroke="#3a3aff" stroke-width="0.2">1</text>
<text x="606.80" y="645.8" font-size="10" fill="#ff2a2a" stroke="#ff2a2a" stroke-width="0.2" textLength="24" lengthAdjust="spacingAndGlyphs">1.382</text>
<text x="677.80" y="645.8" font-size="10" fill="#1f8f1f" stroke="#1f8f1f" stroke-width="0.2" textLength="24" lengthAdjust="spacingAndGlyphs">1.618</text>
<text x="783.80" y="645.8" font-size="10" fill="#3a3aff" stroke="#3a3aff" stroke-width="0.2">2</text>
<text x="889.80" y="645.8" font-size="10" fill="#ff2a2a" stroke="#ff2a2a" stroke-width="0.2" textLength="24" lengthAdjust="spacingAndGlyphs">2.382</text>
<text x="959.80" y="645.8" font-size="10" fill="#1f8f1f" stroke="#1f8f1f" stroke-width="0.2" textLength="24" lengthAdjust="spacingAndGlyphs">2.618</text>
<text x="1065.80" y="645.8" font-size="10" fill="#3a3aff" stroke="#3a3aff" stroke-width="0.2">3</text>
<text x="12.5" y="54.8" font-size="10.8" font-weight="bold" fill="#10131c" textLength="104" lengthAdjust="spacingAndGlyphs">XBTUSD, 3D, BITMEX</text>
<text x="5.60" y="13.8" font-size="10.5" fill="#ffffff" font-weight="bold" textLength="88.0" lengthAdjust="spacingAndGlyphs">ByzantineGeneral</text>
<text x="96.60" y="13.8" font-size="10.5" fill="#f0f1f4" stroke="#f0f1f4" stroke-width="0.25" textLength="42.8" lengthAdjust="spacingAndGlyphs">published</text>
<text x="143.80" y="13.8" font-size="10.5" fill="#f0f1f4" stroke="#f0f1f4" stroke-width="0.25" textLength="11.2" lengthAdjust="spacingAndGlyphs">on</text>
<text x="158.50" y="13.8" font-size="10.5" fill="#f0f1f4" stroke="#f0f1f4" stroke-width="0.25" textLength="86.2" lengthAdjust="spacingAndGlyphs">TradingView.com,</text>
<text x="247.80" y="13.8" font-size="10.5" fill="#f0f1f4" stroke="#f0f1f4" stroke-width="0.25" textLength="20.7" lengthAdjust="spacingAndGlyphs">May</text>
<text x="271.20" y="13.8" font-size="10.5" fill="#f0f1f4" stroke="#f0f1f4" stroke-width="0.25" textLength="13.2" lengthAdjust="spacingAndGlyphs">03,</text>
<text x="288.70" y="13.8" font-size="10.5" fill="#f0f1f4" stroke="#f0f1f4" stroke-width="0.25" textLength="23.2" lengthAdjust="spacingAndGlyphs">2020</text>
<text x="315.60" y="13.8" font-size="10.5" fill="#f0f1f4" stroke="#f0f1f4" stroke-width="0.25" textLength="41.3" lengthAdjust="spacingAndGlyphs">17:33:14</text>
<text x="360.20" y="13.8" font-size="10.5" fill="#f0f1f4" stroke="#f0f1f4" stroke-width="0.25" textLength="19.2" lengthAdjust="spacingAndGlyphs">UTC</text>
<text x="5.60" y="28.2" font-size="10.5" fill="#ffffff" font-weight="bold" textLength="101.4" lengthAdjust="spacingAndGlyphs">BITMEX:XBTUSD, 3D</text>
<text x="111.50" y="28.2" font-size="10.5" fill="#f0f1f4" stroke="#f0f1f4" stroke-width="0.25" textLength="32.5" lengthAdjust="spacingAndGlyphs">8846.0</text>
<path d="M147 21.6 L155.6 21.6 L151.3 29 Z" fill="#ef4a48"/>
<text x="159.00" y="28.2" font-size="10.5" fill="#f0f1f4" stroke="#f0f1f4" stroke-width="0.25" textLength="32.2" lengthAdjust="spacingAndGlyphs">−134.5</text>
<text x="194.80" y="28.2" font-size="10.5" fill="#f0f1f4" stroke="#f0f1f4" stroke-width="0.25" textLength="35.4" lengthAdjust="spacingAndGlyphs">(−1.5%)</text>
<text x="234.00" y="28.2" font-size="10.5" fill="#ffffff" font-weight="bold" textLength="10.4" lengthAdjust="spacingAndGlyphs">O:</text>
<text x="246.00" y="28.2" font-size="10.5" fill="#e4524f" stroke="#e4524f" stroke-width="0.25" textLength="32.5" lengthAdjust="spacingAndGlyphs">8980.5</text>
<text x="282.50" y="28.2" font-size="10.5" fill="#ffffff" font-weight="bold" textLength="10.0" lengthAdjust="spacingAndGlyphs">H:</text>
<text x="294.00" y="28.2" font-size="10.5" fill="#e4524f" stroke="#e4524f" stroke-width="0.25" textLength="32.9" lengthAdjust="spacingAndGlyphs">9200.0</text>
<text x="331.00" y="28.2" font-size="10.5" fill="#ffffff" font-weight="bold" textLength="7.1" lengthAdjust="spacingAndGlyphs">L:</text>
<text x="339.40" y="28.2" font-size="10.5" fill="#e4524f" stroke="#e4524f" stroke-width="0.25" textLength="32.5" lengthAdjust="spacingAndGlyphs">8724.5</text>
<text x="376.20" y="28.2" font-size="10.5" fill="#ffffff" font-weight="bold" textLength="8.5" lengthAdjust="spacingAndGlyphs">C:</text>
<text x="386.00" y="28.2" font-size="10.5" fill="#e4524f" stroke="#e4524f" stroke-width="0.25" textLength="31.8" lengthAdjust="spacingAndGlyphs">8846.0</text>
<g id="logo" fill="#2196f3">
<circle cx="14.4" cy="688.5" r="4.7"/><circle cx="22.3" cy="691.9" r="5.05"/><circle cx="8.9" cy="693" r="4"/><rect x="8.9" y="689.5" width="13.6" height="7.5"/>
</g>
<path d="M5.0 694.9 L13.1 688.9 L18.5 693.6 L24.2 687.9" fill="none" stroke="#131722" stroke-width="0.9" stroke-linejoin="round"/>
<circle cx="13.1" cy="689" r="1.25" fill="#131722"/><circle cx="18.5" cy="693.5" r="1.4" fill="#131722"/>
<text x="28.9" y="694.1" font-size="10.6" fill="#e6e8ec" textLength="59" lengthAdjust="spacingAndGlyphs">TradingView</text>
</svg>
</body></html>
